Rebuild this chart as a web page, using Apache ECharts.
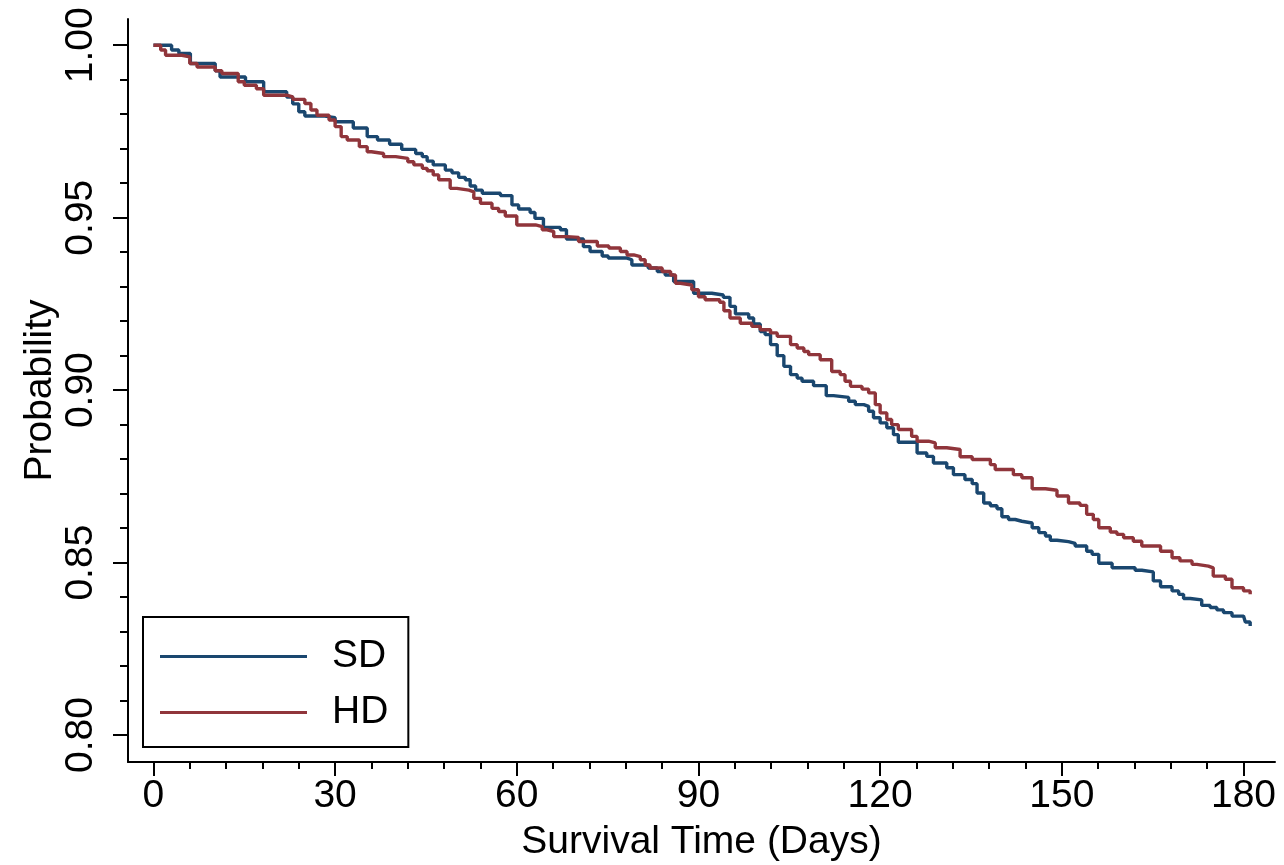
<!DOCTYPE html>
<html>
<head>
<meta charset="utf-8">
<script src="https://cdn.jsdelivr.net/npm/echarts@6.0.0/dist/echarts.min.js"></script>
<style>
  html, body { margin: 0; padding: 0; background: #fff; }
  #km { width: 1284px; height: 865px; }
</style>
</head>
<body>
<div id="km"></div>
<script>
// Kaplan-Meier steps: [day of event, survival after the event]
const sdSteps = [
  [0,1],[3,0.9986],[4.2,0.9976],[6.1,0.9947],[10.2,0.9926],[11,0.9908],[15.2,0.9894],[18.2,0.9865],
  [22,0.985],[23,0.983],[24,0.9807],[25,0.9795],[28,0.979],[30,0.9778],[33,0.976],[35.3,0.9735],
  [37,0.9725],[39,0.9713],[41,0.9698],[43.3,0.9686],[44.4,0.9677],[45.2,0.9664],[46.2,0.9653],
  [48.2,0.9638],[49.3,0.963],[50.4,0.9617],[51.5,0.961],[52.3,0.9592],[53.2,0.958],[54.3,0.9571],
  [57.3,0.9564],[59.2,0.9537],[60.3,0.9525],[62.2,0.9515],[63,0.9498],[64.4,0.9472],[67.2,0.9465],
  [68.2,0.9438],[71,0.9416],[72.1,0.9402],[74.1,0.9389],[75.1,0.9383],[78.2,0.9378],[79,0.9363],
  [81.7,0.9354],[83.2,0.9344],[84.5,0.9334],[85.9,0.9315],[89.2,0.9281],[92.2,0.9276],[94.1,0.9269],
  [95.2,0.9243],[96.1,0.9221],[98.3,0.9209],[99.1,0.9192],[100.2,0.917],[101,0.9161],[101.9,0.9132],
  [103,0.91],[104.1,0.9069],[105.2,0.9045],[106.3,0.9035],[107.1,0.9026],[109,0.9013],[111.1,0.8984],
  [112.3,0.8979],[114.8,0.8968],[115.9,0.8958],[117.3,0.8953],[118.1,0.8939],[118.9,0.892],[120,0.8905],
  [121.1,0.8891],[122.2,0.8871],[123,0.8849],[126.1,0.8818],[127.7,0.8808],[128.8,0.8789],[131,0.8775],
  [132.1,0.8755],[134,0.8741],[135.2,0.8729],[136,0.8702],[137.1,0.8673],[138.2,0.8665],[139.3,0.8656],
  [140.1,0.8633],[141.2,0.8625],[142.3,0.862],[143.4,0.8615],[145.1,0.8601],[146.2,0.8587],[147.3,0.8577],
  [148.1,0.8565],[149.2,0.8561],[151.1,0.8556],[152.2,0.8548],[154.1,0.8533],[155,0.8524],[156.1,0.8498],
  [158.3,0.8485],[162.1,0.8478],[163.2,0.8473],[165.1,0.8447],[166.3,0.843],[168.2,0.8418],[169.3,0.8408],
  [170.1,0.8396],[171.2,0.8392],[173.1,0.8376],[174.5,0.837],[175.6,0.8363],[176.7,0.8355],[178.1,0.8345],
  [180,0.834],[180.3,0.8328],[181.1,0.8316]
];

const hdSteps = [
  [0,1],[1.2,0.9986],[2,0.9971],[4.7,0.9966],[6,0.9947],[7.2,0.9937],[10.2,0.9926],[11.3,0.9918],
  [14,0.9894],[15,0.9884],[17,0.9874],[18.2,0.9855],[22,0.985],[23,0.9843],[25,0.9831],[26,0.9812],
  [27,0.9797],[29,0.9783],[30,0.9764],[31,0.9735],[32,0.9725],[34,0.9706],[35.3,0.9691],[36,0.9686],
  [38,0.9677],[40,0.9672],[42,0.9662],[43,0.9653],[44.4,0.9643],[45.2,0.9636],[46.2,0.9624],[47.1,0.961],
  [49,0.9585],[50.1,0.958],[52.1,0.9575],[52.9,0.9556],[54,0.9542],[55.9,0.9527],[57,0.9518],[58.1,0.9505],
  [60,0.9479],[63.1,0.9474],[64.2,0.9465],[65,0.946],[66.1,0.9445],[68.3,0.9443],[70.2,0.9431],[73.3,0.9418],
  [75.2,0.9412],[77.1,0.9402],[78.2,0.9392],[79.3,0.9387],[80.4,0.9378],[81.2,0.9363],[82,0.9354],[84,0.9344],
  [85.4,0.9334],[86.2,0.931],[87,0.9305],[88.9,0.9291],[90,0.9271],[91.1,0.9262],[93.5,0.9255],[94.2,0.923],
  [95.2,0.9209],[96.9,0.9194],[98.8,0.9185],[100.2,0.9175],[101.9,0.9166],[103,0.9156],[105.2,0.9132],
  [106.3,0.9122],[107.4,0.9112],[108.2,0.9103],[110.1,0.9088],[112,0.9054],[113.4,0.9045],[114.2,0.9026],
  [115.1,0.9011],[117,0.9003],[118.1,0.8992],[119.2,0.8958],[120,0.8934],[121.1,0.8915],[121.9,0.89],
  [123,0.8886],[125.2,0.8866],[126.1,0.8852],[128,0.8847],[129.1,0.8833],[131,0.8828],[133.2,0.8807],
  [135.2,0.8799],[138.2,0.8784],[139,0.877],[142,0.8755],[143.4,0.8746],[145.1,0.8714],[147.3,0.871],
  [149.2,0.8693],[151.1,0.8673],[153,0.8666],[154.1,0.864],[155.2,0.8625],[156.1,0.8601],[158,0.8589],
  [159.1,0.8582],[160.2,0.8572],[161.8,0.8562],[163.2,0.8548],[166.3,0.8533],[168.2,0.8514],[169.5,0.8505],
  [171.5,0.8495],[172.3,0.849],[174.2,0.8485],[175,0.8461],[177,0.8452],[178.1,0.8427],[180,0.8418],
  [181.1,0.8408]
];

const groupNames = ['SD', 'HD'];
const groupColors = ['#1a476f', '#90353b'];

const dayTicks = [0, 30, 60, 90, 120, 150, 180];
const dayMinorTicks = [6, 12, 18, 24, 36, 42, 48, 54, 66, 72, 78, 84, 96, 102, 108, 114,
  126, 132, 138, 144, 156, 162, 168, 174];
const probTicks = [0.80, 0.85, 0.90, 0.95, 1.00];
const probMinorTicks = [0.81, 0.82, 0.83, 0.84, 0.86, 0.87, 0.88, 0.89, 0.91, 0.92, 0.93, 0.94,
  0.96, 0.97, 0.98, 0.99];

const FONT = '"Liberation Sans", Arial, Helvetica, sans-serif';
const dayRange = { min: -4.2, max: 185.2 };
const probRange = { min: 0.7922, max: 1.0076 };

const chart = echarts.init(document.getElementById('km'), null, { renderer: 'canvas' });

const option = {
  animation: false,
  backgroundColor: '#fff',
  textStyle: { fontFamily: FONT, color: '#000' },
  grid: { left: 128, right: 9, top: 19, bottom: 103, containLabel: false, outerBoundsMode: 'none' },
  legend: {
    data: groupNames,
    orient: 'vertical',
    left: 143,
    top: 617,
    padding: [20, 20, 15, 17],
    itemGap: 17,
    itemWidth: 147,
    itemHeight: 3,
    icon: 'rect',
    borderColor: '#000',
    borderWidth: 2,
    borderRadius: 0,
    backgroundColor: '#fff',
    textStyle: { fontFamily: FONT, fontSize: 39, color: '#000', lineHeight: 36, padding: [0, 0, 0, 20] }
  },
  xAxis: [
    {
      type: 'value',
      ...dayRange,
      position: 'bottom',
      name: 'Survival Time (Days)',
      nameLocation: 'middle',
      nameGap: 61,
      nameMoveOverlap: false,
      nameTextStyle: { fontFamily: FONT, fontSize: 39, color: '#000' },
      axisLine: { show: true, onZero: false, lineStyle: { color: '#000', width: 2 } },
      axisTick: { show: true, customValues: dayTicks, length: 14, lineStyle: { color: '#000', width: 2 } },
      axisLabel: { customValues: dayTicks, fontFamily: FONT, fontSize: 39, color: '#000', margin: 15 },
      splitLine: { show: false }
    },
    {
      type: 'value',
      ...dayRange,
      position: 'bottom',
      axisLine: { show: false, onZero: false },
      axisTick: { show: true, customValues: dayMinorTicks, length: 7, lineStyle: { color: '#000', width: 2 } },
      axisLabel: { show: false },
      splitLine: { show: false }
    }
  ],
  yAxis: [
    {
      type: 'value',
      ...probRange,
      position: 'left',
      name: 'Probability',
      nameLocation: 'middle',
      nameGap: 68,
      nameMoveOverlap: false,
      nameTextStyle: { fontFamily: FONT, fontSize: 39, color: '#000' },
      axisLine: { show: true, onZero: false, lineStyle: { color: '#000', width: 2 } },
      axisTick: { show: true, customValues: probTicks, length: 15, lineStyle: { color: '#000', width: 2 } },
      axisLabel: {
        customValues: probTicks,
        rotate: 90,
        margin: 27,
        fontFamily: FONT,
        fontSize: 39,
        color: '#000',
        formatter: v => v.toFixed(2)
      },
      splitLine: { show: false }
    },
    {
      type: 'value',
      ...probRange,
      position: 'left',
      axisLine: { show: false, onZero: false },
      axisTick: { show: true, customValues: probMinorTicks, length: 8, lineStyle: { color: '#000', width: 2 } },
      axisLabel: { show: false },
      splitLine: { show: false }
    }
  ],
  series: [sdSteps, hdSteps].map((steps, i) => ({
    name: groupNames[i],
    type: 'line',
    xAxisIndex: 0,
    yAxisIndex: 0,
    step: 'end',
    showSymbol: false,
    symbol: 'none',
    color: groupColors[i],
    lineStyle: { color: groupColors[i], width: 3.4 },
    data: steps
  }))
};

chart.setOption(option);
</script>
</body>
</html>
